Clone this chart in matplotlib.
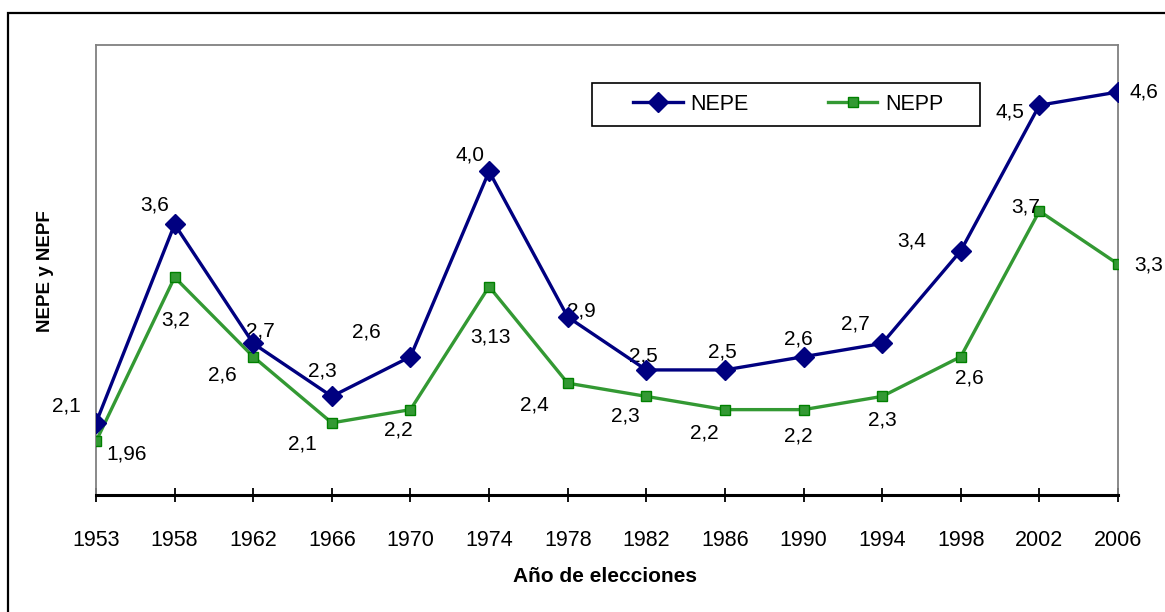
import matplotlib.pyplot as plt
from matplotlib.patches import Rectangle

plt.rcParams['font.family'] = ['Liberation Sans', 'DejaVu Sans']

# Election years and effective number of parties
years = ["1953", "1958", "1962", "1966", "1970", "1974", "1978",
         "1982", "1986", "1990", "1994", "1998", "2002", "2006"]
nepe = [2.1, 3.6, 2.7, 2.3, 2.6, 4.0, 2.9, 2.5, 2.5, 2.6, 2.7, 3.4, 4.5, 4.6]
nepp = [1.96, 3.2, 2.6, 2.1, 2.2, 3.13, 2.4, 2.3, 2.2, 2.2, 2.3, 2.6, 3.7, 3.3]

# label offsets (points) for each data label
nepe_off = [(-21, 12), (-14, 14), (5, 9), (-7, 18), (-32, 18), (-14, 12), (10, 4),
            (-2, 10), (-2, 13), (-4, 13), (-19, 14), (-35, 7), (-21, -5), (19, 0)]
nepp_off = [(22, -9), (1, -31), (-22, -13), (-21, -15), (-9, -15), (1, -36), (-24, -16),
            (-15, -14), (-15, -17), (-4, -19), (0, -17), (6, -15), (-10, 3), (22, -1)]


def fmt(v):
    s = f"{v:.1f}" if round(v, 1) == v else f"{v:.2f}"
    return s.replace(".", ",")


fig = plt.figure(figsize=(11.65, 6.12), dpi=100)
ax = fig.add_axes([96 / 1165, 1 - 495 / 612, (1118 - 96) / 1165, 450 / 612])

x = list(range(len(years)))
blue = "#000080"
green = "#339933"

ax.plot(x, nepe, color=blue, lw=2.4, marker="D", markersize=10,
        markerfacecolor=blue, markeredgecolor=blue, label="NEPE", zorder=4)
ax.plot(x, nepp, color=green, lw=2.4, marker="s", markersize=7.5,
        markerfacecolor=green, markeredgecolor="#008000", markeredgewidth=1,
        label="NEPP", zorder=3)

for xi, v, off in zip(x, nepe, nepe_off):
    ax.annotate(fmt(v), (xi, v), xytext=off, textcoords="offset points",
                ha="center", va="center", fontsize=15, annotation_clip=False)
for xi, v, off in zip(x, nepp, nepp_off):
    ax.annotate(fmt(v), (xi, v), xytext=off, textcoords="offset points",
                ha="center", va="center", fontsize=15, annotation_clip=False)

ax.set_xlim(0, len(years) - 1)
ax.set_ylim(1.555, 4.955)
ax.set_xticks(x)
ax.set_xticklabels(years, fontsize=15.5)
ax.set_yticks([])
ax.tick_params(axis="x", direction="inout", length=10, width=1.3, pad=20)

for side in ["left", "top", "right"]:
    ax.spines[side].set_color("#808080")
    ax.spines[side].set_linewidth(1.3)
ax.spines["bottom"].set_color("black")
ax.spines["bottom"].set_linewidth(2.2)

fig.text(605 / 1165, 1 - 577 / 612, "Año de elecciones", ha="center", va="center",
         fontsize=15, fontweight="bold")
fig.text(46 / 1165, 1 - 271 / 612, "NEPE y NEPF", ha="center", va="center",
         rotation=90, fontsize=13.5, fontweight="bold")

# legend with a hand-placed frame
fig.patches.append(Rectangle((592 / 1165, 1 - 126 / 612), 388 / 1165, 43 / 612,
                             transform=fig.transFigure, fill=False,
                             edgecolor="black", lw=1.2))
fig.legend(loc="center left", bbox_to_anchor=(633 / 1165, 1 - 104 / 612),
           ncol=2, frameon=False, fontsize=15.5, borderpad=0, borderaxespad=0,
           handlelength=2.3, handletextpad=0.35, columnspacing=3.7)

# outer chart border
fig.patches.append(Rectangle((8 / 1165, -0.1), 1.2, 0.1 + 1 - 13 / 612,
                             transform=fig.transFigure, fill=False,
                             edgecolor="black", lw=1.6))

fig.savefig("out.png", dpi=100)
